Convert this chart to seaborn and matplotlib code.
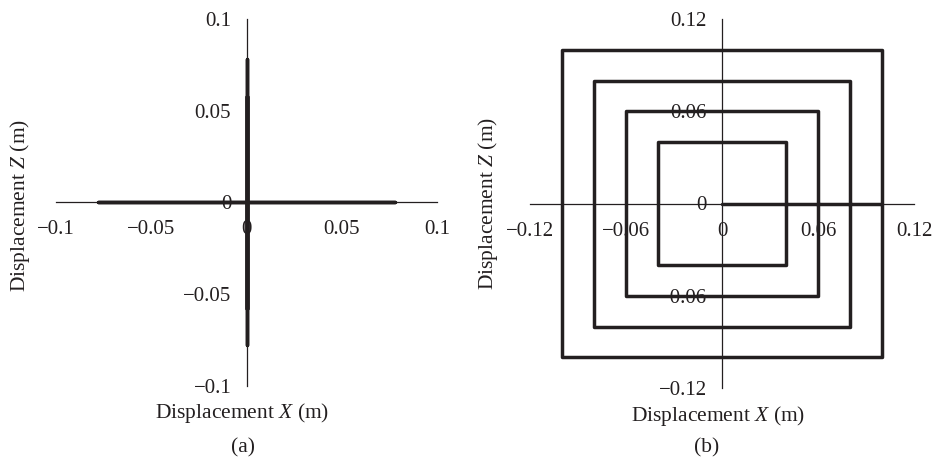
import numpy as np
import pandas as pd
import matplotlib
matplotlib.use("Agg")
import matplotlib.pyplot as plt
import seaborn as sns

# ---- data ----
# (a) cross-shaped trajectory: amplitudes along X and Z (m)
a_x_path = [0.0, 0.078, -0.078, 0.0]
a_z_path_h = [0.0, 0.0, 0.0, 0.0]
a_x_path_v = [0.0, 0.0, 0.0, 0.0, 0.0, 0.0]
a_z_path_v = [0.0, 0.058, -0.058, 0.078, -0.078, 0.0]
a_ticks = [-0.1, -0.05, 0, 0.05, 0.1]
a_ticklabels = ["\u22120.1", "\u22120.05", "0", "0.05", "0.1"]

# (b) nested square trajectories: half-side sizes (m)
b_half_sizes = [0.04, 0.06, 0.08, 0.10]
b_ticks = [-0.12, -0.06, 0, 0.06, 0.12]
b_ticklabels = ["\u22120.12", "\u22120.06", "0", "0.06", "0.12"]

# build (b) path from the half sizes
bx, bz = [0.0], [0.0]
for h in b_half_sizes:
    bx += [h, h, -h, -h, h, h]
    bz += [0, h, h, -h, -h, 0]
df_b = pd.DataFrame({"x": bx, "z": bz})
df_ah = pd.DataFrame({"x": a_x_path, "z": a_z_path_h})
df_av = pd.DataFrame({"x": a_x_path_v, "z": a_z_path_v})

sns.set_style("white")
plt.rcParams["font.family"] = ["Liberation Serif", "DejaVu Serif"]
plt.rcParams["mathtext.fontset"] = "custom"
plt.rcParams["mathtext.rm"] = "Liberation Serif"
plt.rcParams["mathtext.it"] = "Liberation Serif:italic"

W, H = 932, 470
fig = plt.figure(figsize=(W / 100, H / 100), dpi=100)

def frac_ax(x0, x1, ytop, ybot):
    return fig.add_axes([x0 / W, (H - ybot) / H, (x1 - x0) / W, (ybot - ytop) / H])

ax1 = frac_ax(56, 437, 19, 385.7)
ax2 = frac_ax(530, 914, 19, 388)

line_color = "#231f20"
lw = 2.5
sns.lineplot(data=df_ah, x="x", y="z", sort=False, estimator=None, ax=ax1,
             color=line_color, linewidth=lw)
sns.lineplot(data=df_av, x="x", y="z", sort=False, estimator=None, ax=ax1,
             color=line_color, linewidth=lw)
sns.lineplot(data=df_b, x="x", y="z", sort=False, estimator=None, ax=ax2,
             color=line_color, linewidth=lw)

for ax, ticks, labels, lim in [(ax1, a_ticks, a_ticklabels, 0.1),
                               (ax2, b_ticks, b_ticklabels, 0.12)]:
    ax.set_xlim(-lim, lim)
    ax.set_ylim(-lim, lim)
    ax.set_facecolor("none")
    ax.spines["left"].set_position(("data", 0))
    ax.spines["bottom"].set_position(("data", 0))
    ax.spines["top"].set_visible(False)
    ax.spines["right"].set_visible(False)
    for s in ("left", "bottom"):
        ax.spines[s].set_color(line_color)
        ax.spines[s].set_linewidth(0.9)
    ax.set_xticks(ticks)
    ax.set_xticklabels(labels)
    ax.set_yticks(ticks)
    ax.set_yticklabels(labels)
    ax.tick_params(axis="both", direction="out", length=7, width=0.9,
                   color=line_color, labelsize=15, labelcolor="#231f20")
    ax.tick_params(axis="x", pad=6)
    ax.tick_params(axis="y", pad=4)
    ax.set_xlabel("")
    ax.set_ylabel("")

lab_kw = dict(fontsize=15.5, color="#231f20", ha="center", va="center")
fig.text(20 / W, 1 - 205 / H, "Displacement $\\mathit{Z}$ (m)", rotation=90, **lab_kw)
fig.text(242 / W, 1 - 413 / H, "Displacement $\\mathit{X}$ (m)", **lab_kw)
fig.text(243 / W, 1 - 448 / H, "(a)", **lab_kw)
fig.text(488 / W, 1 - 203 / H, "Displacement $\\mathit{Z}$ (m)", rotation=90, **lab_kw)
fig.text(718 / W, 1 - 416 / H, "Displacement $\\mathit{X}$ (m)", **lab_kw)
fig.text(707 / W, 1 - 448 / H, "(b)", **lab_kw)

fig.savefig("out.png", dpi=100)
